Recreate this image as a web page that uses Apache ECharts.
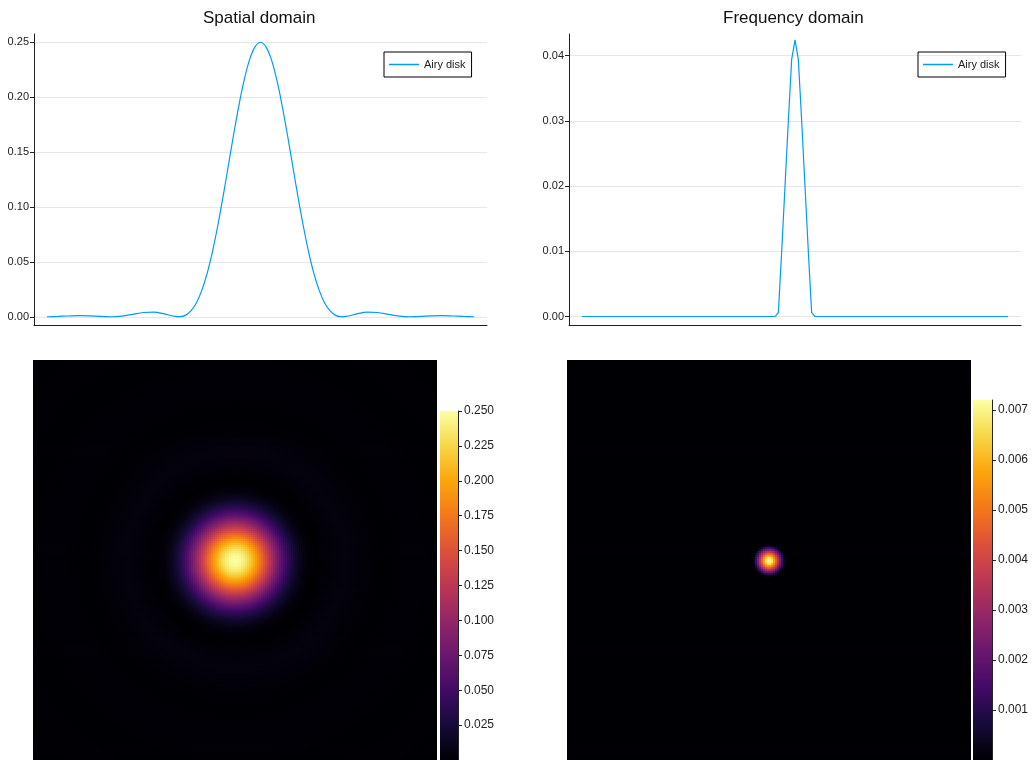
<!DOCTYPE html>
<html>
<head>
<meta charset="utf-8">
<script src="https://cdn.jsdelivr.net/npm/echarts@6/dist/echarts.min.js"></script>
<style>
  html, body { margin: 0; padding: 0; background: #fff; }
  #chart { width: 1033px; height: 760px; }
</style>
</head>
<body>
<div id="chart"></div>
<script>
// radial profile of the airy disk (r >= 0)
const spatialR = [0, 0.25, 0.5, 0.75, 1, 1.25, 1.5, 1.75, 2, 2.25, 2.5, 2.75, 3, 3.25, 3.5, 3.75,
  4, 4.5, 5, 5.5, 6, 6.5, 7, 7.5, 8, 8.5, 9, 9.5, 10, 10.5, 11, 11.5, 12, 12.5, 13, 13.5, 20];
const spatialI = [0.2500, 0.2460, 0.2348, 0.2168, 0.1937, 0.1669, 0.1383, 0.1099, 0.0831, 0.0594, 0.0395, 0.0240, 0.0128, 0.0055, 0.0015, 0.0001,
  0.0003, 0.0026, 0.0043, 0.0039, 0.0021, 0.0006, 0.0000, 0.0003, 0.0009, 0.0010, 0.0007, 0.0003, 0.0000, 0.0001, 0.0003, 0.0004, 0.0003, 0.0002, 0.0000, 0.0000, 0.0000];

// frequency-domain line: sample index and value
const freqK = [-64, -6, -5, -4, -3, -2, -1, 0, 1, 2, 3, 4, 5, 6, 64];
const freqV = [0, 0, 0.0006, 0.0100, 0.0200, 0.0300, 0.0394, 0.0424, 0.0394, 0.0300, 0.0200, 0.0100, 0.0006, 0, 0];

// radial profile of the frequency image, in samples from the centre
const freqMapR = [0, 1, 2, 3, 4, 5, 6, 200];
const freqMapV = [0.0072, 0.0067, 0.0051, 0.0034, 0.0017, 0.0001, 0, 0];

// colour bar tick labels
const spatialBarTicks = ['0.025', '0.050', '0.075', '0.100', '0.125', '0.150', '0.175', '0.200', '0.225', '0.250'];
const freqBarTicks = ['0.001', '0.002', '0.003', '0.004', '0.005', '0.006', '0.007'];

const inferno = ['#000004', '#160b39', '#420a68', '#6a176e', '#932667', '#bc3754',
  '#dd513a', '#f37819', '#fca50a', '#f6d746', '#fcffa4'];

// image cells (2px each), centre between the two middle cells
const N = 202, C = (N - 1) / 2;
const spatialStep = 9.5 / 101;   // airy units per cell
const freqStep = 129 / 202;      // frequency samples per cell

function lookup(rs, vs, r) {
  for (let i = 1; i < rs.length; i++) {
    if (r <= rs[i]) {
      const t = (r - rs[i - 1]) / (rs[i] - rs[i - 1]);
      return vs[i - 1] + t * (vs[i] - vs[i - 1]);
    }
  }
  return vs[vs.length - 1];
}

// line through the centre: mirror the radial profile
const spatialLine = [];
for (let i = spatialR.length - 1; i > 0; i--) {
  if (spatialR[i] <= 10) spatialLine.push([-spatialR[i], spatialI[i]]);
}
for (let i = 0; i < spatialR.length; i++) {
  if (spatialR[i] <= 10) spatialLine.push([spatialR[i], spatialI[i]]);
}
const freqLine = freqK.map((k, i) => [k, freqV[i]]);

// images built from the radial profiles
const cells = [];
for (let i = 0; i < N; i++) cells.push(i);
const spatialMap = [], freqMap = [];
for (let i = 0; i < N; i++) {
  for (let j = 0; j < N; j++) {
    const rc = Math.hypot(i - C, j - C);
    spatialMap.push([i, j, lookup(spatialR, spatialI, rc * spatialStep)]);
    freqMap.push([i, j, lookup(freqMapR, freqMapV, rc * freqStep)]);
  }
}

const font = 'Liberation Sans, Arial, Helvetica, sans-serif';
const axisColor = '#222';

function lineYAxis(grid, min, max) {
  return {
    type: 'value', gridIndex: grid, min: min, max: max, splitNumber: 5,
    axisLine: { show: true, onZero: false, lineStyle: { color: axisColor, width: 1 } },
    axisTick: { show: true, length: 4, lineStyle: { color: axisColor } },
    axisLabel: { fontSize: 11, color: axisColor, fontFamily: font, margin: 5,
      showMinLabel: false, showMaxLabel: false, formatter: v => v.toFixed(2) },
    splitLine: { show: true, showMinLine: false, showMaxLine: false, lineStyle: { color: '#e6e6e6', width: 1 } }
  };
}
function lineXAxis(grid, min, max) {
  return {
    type: 'value', gridIndex: grid, min: min, max: max,
    axisLine: { show: true, onZero: false, lineStyle: { color: axisColor, width: 1 } },
    axisTick: { show: false }, axisLabel: { show: false }, splitLine: { show: false }
  };
}
function barYAxis(grid, max, ticks) {
  const step = parseFloat(ticks[1]) - parseFloat(ticks[0]);
  return {
    type: 'value', gridIndex: grid, position: 'right', min: 0, max: max, interval: step,
    axisLine: { show: true, onZero: false, lineStyle: { color: axisColor, width: 1 } },
    axisTick: { show: true, length: 4, lineStyle: { color: axisColor } },
    axisLabel: { fontSize: 12, color: axisColor, fontFamily: font, margin: 6,
      formatter: v => {
        const s = v.toFixed(3);
        return ticks.indexOf(s) >= 0 ? s : '';
      } },
    splitLine: { show: false }
  };
}
function barFill() {
  return new echarts.graphic.LinearGradient(0, 1, 0, 0,
    inferno.map((c, i) => ({ offset: i / (inferno.length - 1), color: c })));
}
function legend(left) {
  return {
    left: left, top: 52, orient: 'horizontal', data: ['Airy disk'],
    borderColor: '#000', borderWidth: 1, padding: [7, 6, 7, 5],
    icon: 'rect', itemWidth: 30, itemHeight: 1.5,
    textStyle: { fontSize: 11, color: axisColor, fontFamily: font }
  };
}
// image cells drawn slightly oversized so neighbours overlap (no seams)
function imageSeries(axis, data) {
  return {
    type: 'custom', xAxisIndex: axis, yAxisIndex: axis, data: data, silent: true,
    encode: { x: 0, y: 1 }, clip: true,
    progressive: 0, progressiveThreshold: 1e7,
    renderItem: (params, api) => {
      const p = api.coord([api.value(0), api.value(1)]);
      const s = api.size([1, 1]);
      return {
        type: 'rect',
        shape: { x: p[0] - s[0] / 2, y: p[1] - s[1] / 2, width: s[0] + 0.8, height: s[1] + 0.8 },
        style: { fill: api.visual('color') }
      };
    }
  };
}

const chart = echarts.init(document.getElementById('chart'));
chart.setOption({
  animation: false,
  backgroundColor: '#fff',
  textStyle: { fontFamily: font },
  title: [
    { text: 'Spatial domain', left: 203, top: 10, padding: 0,
      textStyle: { fontSize: 17, fontWeight: 'normal', color: '#111', fontFamily: font } },
    { text: 'Frequency domain', left: 723, top: 10, padding: 0,
      textStyle: { fontSize: 17, fontWeight: 'normal', color: '#111', fontFamily: font } }
  ],
  legend: [legend(384), legend(918)],
  grid: [
    { left: 34, top: 34, width: 453, height: 291 },
    { left: 569, top: 34, width: 452, height: 291 },
    { left: 33, top: 360, width: 404, height: 404 },
    { left: 567, top: 360, width: 404, height: 404 },
    { left: 440, top: 411, width: 18, height: 354 },
    { left: 973, top: 400, width: 19, height: 384 }
  ],
  xAxis: [
    lineXAxis(0, -10.61, 10.61),
    lineXAxis(1, -67.9, 67.9),
    { type: 'category', gridIndex: 2, data: cells, show: false },
    { type: 'category', gridIndex: 3, data: cells, show: false },
    { type: 'category', gridIndex: 4, data: ['c'], show: false },
    { type: 'category', gridIndex: 5, data: ['c'], show: false }
  ],
  yAxis: [
    lineYAxis(0, -0.0075, 0.2575),
    lineYAxis(1, -0.0013, 0.0433),
    { type: 'category', gridIndex: 2, data: cells, show: false },
    { type: 'category', gridIndex: 3, data: cells, show: false },
    barYAxis(4, 0.25, spatialBarTicks),
    barYAxis(5, 0.0072, freqBarTicks)
  ],
  visualMap: [
    { type: 'continuous', seriesIndex: 2, dimension: 2, min: 0, max: 0.25, show: false, inRange: { color: inferno } },
    { type: 'continuous', seriesIndex: 3, dimension: 2, min: 0, max: 0.0072, show: false, inRange: { color: inferno } }
  ],
  series: [
    { name: 'Airy disk', type: 'line', xAxisIndex: 0, yAxisIndex: 0, data: spatialLine,
      showSymbol: false, symbol: 'none', smooth: 0.3, color: '#009af9',
      lineStyle: { width: 1.2, color: '#009af9' }, silent: true },
    { name: 'Airy disk', type: 'line', xAxisIndex: 1, yAxisIndex: 1, data: freqLine,
      showSymbol: false, symbol: 'none', color: '#009af9',
      lineStyle: { width: 1.2, color: '#009af9' }, silent: true },
    imageSeries(2, spatialMap),
    imageSeries(3, freqMap),
    { type: 'bar', xAxisIndex: 4, yAxisIndex: 4, data: [0.25], barWidth: '100%',
      itemStyle: { color: barFill() }, silent: true },
    { type: 'bar', xAxisIndex: 5, yAxisIndex: 5, data: [0.0072], barWidth: '100%',
      itemStyle: { color: barFill() }, silent: true }
  ]
});
</script>
</body>
</html>
